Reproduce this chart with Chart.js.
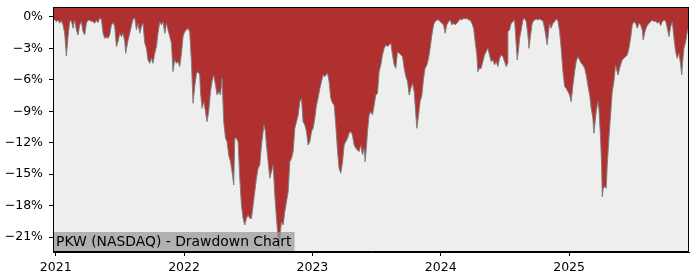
<!DOCTYPE html>
<html lang="en">
<head>
    <meta charset="UTF-8">
    <title>PKW (NASDAQ) - Drawdown Chart</title>
    <script src="https://cdn.jsdelivr.net/npm/chart.js@4.4.1/dist/chart.umd.min.js"></script>
    <style>
        body { margin: 0; background: #fff; }
        #wrap { width: 700px; height: 280px; }
    </style>
</head>
<body>
<div id="wrap"><canvas id="ddChart"></canvas></div>
<script>
// time as decimal years
const years = [
    2020.979, 2021.005, 2021.018, 2021.031, 2021.044, 2021.057, 2021.070, 2021.083, 2021.096, 2021.109,
    2021.122, 2021.135, 2021.148, 2021.161, 2021.174, 2021.187, 2021.200, 2021.213, 2021.226, 2021.239,
    2021.252, 2021.265, 2021.291, 2021.304, 2021.317, 2021.330, 2021.343, 2021.356, 2021.369, 2021.382,
    2021.395, 2021.408, 2021.421, 2021.434, 2021.447, 2021.460, 2021.473, 2021.486, 2021.499, 2021.512,
    2021.525, 2021.538, 2021.545, 2021.564, 2021.577, 2021.602, 2021.616, 2021.629, 2021.641, 2021.655,
    2021.668, 2021.680, 2021.694, 2021.707, 2021.719, 2021.733, 2021.746, 2021.758, 2021.772, 2021.785,
    2021.797, 2021.811, 2021.824, 2021.836, 2021.850, 2021.863, 2021.875, 2021.889, 2021.902, 2021.914,
    2021.927, 2021.941, 2021.953, 2021.966, 2021.980, 2021.992, 2022.005, 2022.019, 2022.031, 2022.044,
    2022.058, 2022.070, 2022.083, 2022.097, 2022.109, 2022.122,
    2022.128, 2022.140, 2022.154, 2022.167, 2022.179, 2022.192, 2022.206, 2022.218, 2022.231, 2022.245,
    2022.257, 2022.270, 2022.284, 2022.296, 2022.309, 2022.323, 2022.335, 2022.348, 2022.362, 2022.374,
    2022.387,
    2022.395, 2022.408, 2022.421, 2022.434, 2022.447, 2022.460, 2022.473, 2022.486, 2022.499, 2022.512,
    2022.525, 2022.538, 2022.551, 2022.564, 2022.577, 2022.590, 2022.603, 2022.616, 2022.623, 2022.634,
    2022.642, 2022.655, 2022.668, 2022.681, 2022.694, 2022.707, 2022.720, 2022.733, 2022.740, 2022.751,
    2022.759, 2022.772, 2022.785, 2022.798, 2022.811, 2022.824, 2022.837, 2022.850, 2022.863, 2022.876,
    2022.889, 2022.902, 2022.915, 2022.927, 2022.941, 2022.954, 2022.966, 2022.980, 2022.993, 2023.005,
    2023.019, 2023.032, 2023.044, 2023.058, 2023.071, 2023.083, 2023.097,
    2023.104, 2023.118, 2023.130, 2023.143, 2023.157, 2023.169, 2023.182, 2023.196, 2023.208, 2023.221,
    2023.235, 2023.247, 2023.260, 2023.274, 2023.286, 2023.299, 2023.312, 2023.325, 2023.338, 2023.351,
    2023.364, 2023.377, 2023.390, 2023.403, 2023.411, 2023.422, 2023.429, 2023.442, 2023.455, 2023.468,
    2023.481, 2023.494, 2023.507, 2023.520, 2023.533, 2023.546, 2023.559, 2023.572, 2023.585, 2023.598,
    2023.611, 2023.624, 2023.637, 2023.650, 2023.663, 2023.676, 2023.689, 2023.702, 2023.715, 2023.728,
    2023.741, 2023.754, 2023.767, 2023.780, 2023.793, 2023.806,
    2023.814, 2023.827, 2023.839, 2023.853, 2023.866, 2023.878, 2023.892, 2023.905, 2023.917, 2023.931,
    2023.944, 2023.956, 2023.970, 2023.983, 2023.995, 2024.008, 2024.022, 2024.034, 2024.047, 2024.061,
    2024.073, 2024.086, 2024.100, 2024.112, 2024.125, 2024.139, 2024.151, 2024.164, 2024.178, 2024.190,
    2024.203, 2024.217, 2024.229, 2024.242, 2024.256, 2024.268, 2024.281, 2024.289, 2024.302, 2024.315,
    2024.328, 2024.341, 2024.354, 2024.367, 2024.380, 2024.393, 2024.406, 2024.419, 2024.432, 2024.445,
    2024.458, 2024.471, 2024.484, 2024.497, 2024.510, 2024.521,
    2024.523, 2024.536, 2024.549, 2024.562, 2024.575, 2024.588, 2024.596, 2024.607, 2024.614, 2024.627,
    2024.640, 2024.653, 2024.666, 2024.679, 2024.687, 2024.700, 2024.710, 2024.718, 2024.731, 2024.744,
    2024.757, 2024.770, 2024.782, 2024.796, 2024.809, 2024.821, 2024.829, 2024.840, 2024.848, 2024.860,
    2024.874, 2024.887, 2024.899, 2024.913, 2024.926, 2024.938, 2024.952, 2024.965, 2024.977, 2024.991,
    2025.004, 2025.016, 2025.030, 2025.043, 2025.055, 2025.068, 2025.082, 2025.094, 2025.107, 2025.121,
    2025.133, 2025.146, 2025.160, 2025.172, 2025.185, 2025.193, 2025.203, 2025.211, 2025.224,
    2025.232, 2025.245, 2025.253, 2025.258, 2025.266, 2025.279, 2025.289, 2025.297, 2025.310, 2025.323,
    2025.336, 2025.349, 2025.362, 2025.374, 2025.382, 2025.393, 2025.401, 2025.414, 2025.427, 2025.440,
    2025.453, 2025.466, 2025.479, 2025.492, 2025.505, 2025.518, 2025.531, 2025.544, 2025.557, 2025.570,
    2025.577, 2025.591, 2025.604, 2025.616, 2025.635, 2025.648, 2025.661, 2025.674, 2025.687, 2025.700,
    2025.713, 2025.726, 2025.739, 2025.752, 2025.765, 2025.778, 2025.791, 2025.804, 2025.817, 2025.830,
    2025.842, 2025.856, 2025.869, 2025.877, 2025.887, 2025.895, 2025.908, 2025.921, 2025.934
];

// drawdown in percent
const drawdown = [
    -0.13, -0.45, -0.29, -0.60, -0.35, -0.76, -1.56, -3.72, -1.88, -0.45,
    -0.35, -1.08, -0.29, -1.24, -1.72, -0.76, -0.45, -1.40, -1.72, -0.60,
    -0.29, -0.35, -0.45, -0.60, -0.35, -0.54, -0.13, -0.22, -1.56, -2.04,
    -1.94, -2.04, -1.72, -0.76, -0.54, -0.92, -2.83, -2.35, -1.56, -1.88,
    -1.56, -2.35, -3.47, -2.20, -1.56, -0.22, -0.13, -1.24, -0.60, -1.56,
    -0.92, -0.60, -2.51, -2.99, -4.10, -4.42, -3.95, -4.42, -3.47, -2.83,
    -1.56, -0.45, -0.76, -0.45, -1.56, -0.60, -1.24, -1.88, -2.51, -5.22,
    -4.10, -4.42, -4.26, -4.74, -3.47, -1.88, -1.40, -1.24, -1.08, -1.40,
    -4.42, -8.24, -6.65, -5.38, -5.22, -5.54,
    -7.13, -8.72, -8.08, -9.04, -9.99, -9.04, -7.13, -6.17, -5.54, -6.49,
    -7.45, -7.13, -7.45, -5.85, -9.99, -11.58, -11.90, -13.17, -13.81, -14.76,
    -16.04,
    -11.58, -11.58, -11.90, -15.40, -17.94, -19.22, -19.85, -19.22, -18.90, -19.22,
    -19.22, -17.94, -16.67, -15.40, -14.44, -14.13, -12.22, -10.94, -10.31, -10.94,
    -12.22, -13.81, -15.40, -14.76, -14.13, -16.99, -19.22, -21.13, -22.08, -20.49,
    -19.54, -19.85, -18.58, -17.63, -16.67, -13.81, -13.49, -12.85, -10.63, -9.99,
    -9.35, -8.08, -7.76, -9.99, -10.31, -10.94, -12.22, -11.90, -10.94, -10.63,
    -9.67, -8.40, -7.76, -6.81, -6.17, -5.54, -5.70,
    -5.54, -5.38, -6.17, -7.76, -8.24, -8.40, -10.31, -12.85, -14.44, -14.92,
    -13.81, -12.22, -11.90, -11.58, -11.10, -10.94, -11.26, -12.22, -12.54, -12.69,
    -12.85, -12.22, -13.17, -12.54, -13.81, -12.22, -10.94, -9.35, -9.04, -9.35,
    -8.40, -7.45, -7.29, -5.22, -4.58, -3.63, -2.99, -2.67, -2.83, -2.67,
    -2.51, -3.63, -4.58, -4.90, -3.31, -3.47, -3.63, -3.79, -4.90, -5.70,
    -6.17, -7.45, -6.81, -6.33, -7.13, -9.35,
    -10.63, -9.35, -8.08, -7.45, -5.85, -4.90, -4.58, -3.95, -2.99, -1.72,
    -0.76, -0.45, -0.29, -0.29, -0.45, -0.60, -0.76, -1.56, -0.76, -0.45,
    -0.29, -0.76, -0.60, -0.76, -0.60, -0.38, -0.19, -0.29, -0.13, -0.19,
    -0.13, -0.29, -0.29, -0.60, -1.08, -2.35, -3.63, -5.22, -4.90, -4.90,
    -4.26, -3.63, -3.31, -2.99, -3.63, -4.26, -4.10, -4.58, -4.26, -4.74,
    -3.95, -3.63, -3.79, -4.26, -4.74, -4.42,
    -1.40, -1.24, -0.60, -0.45, -0.29, -2.67, -4.10, -2.99, -2.04, -1.24,
    -0.29, -0.13, -0.45, -1.72, -2.99, -1.72, -0.76, -0.45, -0.29, -0.19,
    -0.29, -0.19, -0.29, -0.38, -1.08, -2.04, -2.67, -1.40, -0.60, -1.08,
    -0.60, -0.45, -0.19, -0.38, -1.40, -2.99, -5.22, -6.65, -6.81, -7.13,
    -7.45, -8.08, -6.49, -5.22, -4.26, -3.79, -4.10, -4.42, -4.58, -4.90,
    -5.54, -6.49, -7.45, -8.72, -9.67, -11.10, -9.99, -9.04, -8.08,
    -8.72, -11.58, -14.13, -17.15, -16.35, -16.19, -16.35, -14.13, -11.58, -9.35,
    -7.13, -6.17, -4.58, -5.22, -5.54, -4.90, -4.58, -4.10, -3.95, -3.79,
    -3.63, -2.99, -2.04, -0.76, -0.45, -0.60, -1.08, -0.60, -0.76, -1.24,
    -2.20, -1.40, -0.92, -0.70, -0.45, -0.29, -0.45, -0.38, -0.60, -0.45,
    -0.83, -0.45, -0.29, -0.38, -1.08, -1.88, -0.92, -0.45, -2.04, -3.31,
    -3.95, -3.47, -4.58, -5.54, -3.95, -2.99, -2.35, -1.40, -0.76
];

const yTicks = [0, -3, -6, -9, -12, -15, -18, -21];
const xTicks = [2021, 2022, 2023, 2024, 2025];
const chartLabel = 'PKW (NASDAQ) - Drawdown Chart';

const points = years.map((yr, i) => ({ x: yr, y: drawdown[i] }));
const tickFont = { family: 'DejaVu Sans', size: 12.5 };

const plotBg = {
    id: 'plotBg',
    beforeDraw(chart) {
        const { ctx, chartArea: a } = chart;
        ctx.save();
        ctx.fillStyle = '#eeeeee';
        ctx.fillRect(a.left, a.top, a.right - a.left, a.bottom - a.top);
        ctx.restore();
    },
    afterDraw(chart) {
        const { ctx, chartArea: a } = chart;
        ctx.save();
        // label box bottom left, see-through so the deep dip shows
        ctx.font = '13.9px "DejaVu Sans"';
        const w = ctx.measureText(chartLabel).width;
        ctx.fillStyle = 'rgba(150,150,150,0.7)';
        ctx.fillRect(a.left, a.bottom - 20, w + 6, 20);
        ctx.fillStyle = '#000';
        ctx.textBaseline = 'middle';
        ctx.fillText(chartLabel, a.left + 3, a.bottom - 9.5);
        // frame
        ctx.strokeStyle = '#000';
        ctx.lineWidth = 1;
        ctx.strokeRect(a.left + 0.5, a.top + 0.5, a.right - a.left - 1, a.bottom - a.top - 1);
        ctx.restore();
    }
};

new Chart(document.getElementById('ddChart'), {
    type: 'line',
    data: {
        datasets: [{
            data: points,
            borderColor: 'rgba(125,125,125,0.95)',
            borderWidth: 1,
            backgroundColor: '#b03030',
            fill: 'end',
            pointRadius: 0,
            tension: 0
        }]
    },
    options: {
        responsive: true,
        maintainAspectRatio: false,
        animation: false,
        layout: { padding: { top: 7, right: 11, left: 0, bottom: 0 } },
        plugins: { legend: { display: false }, tooltip: { enabled: false } },
        scales: {
            x: {
                type: 'linear',
                min: years[0],
                max: years[years.length - 1],
                afterBuildTicks: s => { s.ticks = xTicks.map(v => ({ value: v })); },
                afterFit: s => { s.height = 28; s.paddingLeft = 0; s.paddingRight = 0; },
                grid: { drawOnChartArea: false, tickLength: 4, color: '#000' },
                border: { color: '#000' },
                ticks: { color: '#000', font: tickFont, padding: 4, maxRotation: 0,
                    callback: v => String(v) }
            },
            y: {
                min: -22.43,
                max: 0.95,
                afterBuildTicks: s => { s.ticks = yTicks.map(v => ({ value: v })); },
                afterFit: s => { s.width = 53; s.paddingTop = 0; s.paddingBottom = 0; },
                grid: { drawOnChartArea: false, tickLength: 4, color: '#000' },
                border: { color: '#000' },
                ticks: { color: '#000', font: tickFont, padding: 6,
                    callback: v => (v < 0 ? '\u2212' + Math.abs(v) : v) + '%' }
            }
        }
    },
    plugins: [plotBg]
});
</script>
</body>
</html>
